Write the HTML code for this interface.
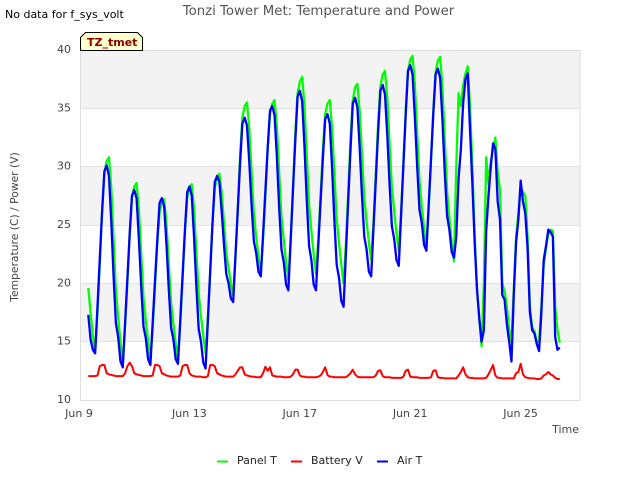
<!DOCTYPE html>
<html>
<head>
<meta charset="utf-8">
<title>Tonzi Tower Met: Temperature and Power</title>
<style>
html,body{margin:0;padding:0;background:#fff;width:640px;height:480px;overflow:hidden}
svg{display:block}
text{font-family:"DejaVu Sans",sans-serif;font-size:11px}
</style>
</head>
<body>
<svg id="chart" width="640" height="480" viewBox="0 0 640 480" xmlns="http://www.w3.org/2000/svg">
  <text x="318.5" y="15" text-anchor="middle" fill="#555" style="font-size:13.3px">Tonzi Tower Met: Temperature and Power</text>
  <text x="5" y="18" fill="#000">No data for f_sys_volt</text>
  <g id="bands"></g>
  <g id="grid"></g>
  <rect x="80.5" y="50.5" width="499.5" height="350" fill="none" stroke="#ddd"></rect>
  <g id="yticks"></g>
  <g id="xticks"></g>
  <text transform="translate(18,227) rotate(-90)" text-anchor="middle" fill="#444" style="font-size:10.75px">Temperature (C) / Power (V)</text>
  <text x="579" y="433" text-anchor="end" fill="#444">Time</text>
  <g id="series"></g>
  <g>
    <polygon points="80.5,50.5 80.5,37.5 85.5,32.5 137.5,32.5 142.5,37.5 142.5,50.5" fill="#ffffcc" stroke="#000"></polygon>
    <text x="87" y="46" fill="#8b0000" style="font-weight:bold">TZ_tmet</text>
  </g>
  <g>
    <line x1="217" x2="228" y1="461.5" y2="461.5" stroke="#00ff00" stroke-width="2"></line>
    <text x="237" y="464" fill="#222">Panel T</text>
    <line x1="291" x2="302" y1="461.5" y2="461.5" stroke="#ff0000" stroke-width="2"></line>
    <text x="311" y="464" fill="#222">Battery V</text>
    <line x1="377" x2="388" y1="461.5" y2="461.5" stroke="#0000ff" stroke-width="2"></line>
    <text x="397" y="464" fill="#222">Air T</text>
  </g>
</svg>
<script>
const yTickValues = [10, 15, 20, 25, 30, 35, 40];
const xTickDays = [0, 4, 8, 12, 16];
const xTickLabels = ["Jun 9", "Jun 13", "Jun 17", "Jun 21", "Jun 25"];
const firstSampleDay = 0.3;
const samplesPerDay = 12;

const panelT = [
19.6,17.5,15.5,14.2,17.5,21.7,26.2,29.5,30.5,30.8,28.2,23.8,
19.4,17.1,15,13.2,16.3,20.1,24.3,27.4,28.3,28.6,26.3,22.6,
18.8,16.8,15,13.5,16.2,19.7,23.4,26.1,26.9,27.2,25.1,21.7,
18.3,16.5,14.9,13.5,16.5,20.3,24.3,27.3,28.2,28.5,26.3,22.7,
19.1,17.2,15.5,14,17.1,20.9,25.1,28.2,29.1,29.4,27.8,25.2,
22.6,21.3,20,19,22.3,26.4,30.9,34.2,35.2,35.5,33.3,29.6,
26,24,22.3,20.8,23.8,27.5,31.5,34.5,35.4,35.7,33.4,29.5,
25.7,23.7,21.8,20.3,23.8,28.1,32.8,36.3,37.3,37.7,35.2,31,
26.7,24.5,22.5,20.8,23.8,27.5,31.5,34.5,35.4,35.7,33.3,29.4,
25.5,23.5,21.6,20,23.4,27.7,32.3,35.7,36.8,37.1,34.8,31.1,
27.3,25.3,23.5,22,25.2,29.3,33.7,36.9,37.9,38.2,35.9,32,
28.2,26.2,24.3,22.8,26.1,30.3,34.8,38.2,39.2,39.5,37,32.9,
28.8,26.6,24.7,23,26.3,30.4,34.8,38.1,39.1,39.4,36.7,32.3,
27.9,25.6,23.5,21.9,30,36.3,35.2,37,38,38.6,35,30,
24,19.5,17,14.6,20,30.8,28.5,30.5,31.5,32.5,29.5,28,
20,19.3,18,16,15,19.5,24,26,28.2,27.8,27.5,24,
18,16.2,15.9,15,15,18,21.5,23,24.2,24.6,24.5,18,
16,14.9
];

const batteryV = [
12.05,12.05,12.05,12.05,12.1,12.9,13,13,12.3,12.2,12.15,12.1,
12.05,12.05,12.05,12.05,12.3,12.9,13.2,12.9,12.3,12.2,12.15,12.1,
12.05,12.05,12.05,12.05,12.1,13,13,12.9,12.3,12.2,12.1,12.05,
12,12,12,12,12.1,12.9,13,13,12.3,12.1,12.05,12,
12,12,11.95,11.95,12.05,13,13,12.9,12.3,12.2,12.1,12.05,
12,12,12,12,12.2,12.5,12.8,12.8,12.2,12.1,12.05,12,
12,11.95,11.95,11.95,12.3,12.85,12.5,12.8,12.1,12.05,12,12,
12,11.95,11.95,11.95,12,12.2,12.6,12.6,12.1,12,12,11.95,
11.95,11.95,11.95,11.95,12,12.1,12.4,12.8,12.15,12,12,11.95,
11.95,11.95,11.95,11.95,11.95,12.1,12.3,12.6,12.2,12,11.95,11.95,
11.95,11.95,11.95,11.95,11.95,12.1,12.5,12.55,12.05,11.95,11.95,11.95,
11.9,11.9,11.9,11.9,11.9,12,12.5,12.6,12,11.95,11.95,11.95,
11.9,11.9,11.9,11.9,11.9,11.95,12.5,12.55,11.95,11.9,11.9,11.85,
11.85,11.85,11.85,11.85,11.85,12.1,12.4,12.8,12.2,11.95,11.9,11.9,
11.85,11.85,11.85,11.85,11.85,11.9,12.2,12.6,13,12.1,11.9,11.9,
11.85,11.85,11.85,11.85,11.85,11.85,12.3,12.4,13.1,12.2,11.95,11.9,
11.85,11.85,11.85,11.8,11.8,11.85,12.1,12.2,12.4,12.2,12.1,11.9,
11.8,11.8
];

const airT = [
17.3,15.2,14.3,14,18,22.1,26.1,29.6,30.1,29.2,25.3,20.6,
16.6,15.4,13.3,12.8,16.6,20.4,24.2,27.5,28,27.3,23.8,19.8,
16.3,15.3,13.5,13,16.6,20.2,23.7,26.9,27.3,26.6,23.3,19.5,
16.2,15.2,13.5,13.1,16.9,20.7,24.5,27.8,28.3,27.5,23.9,19.7,
16.1,15,13.2,12.7,16.8,21,25.1,28.7,29.2,28.7,26.2,23.3,
20.8,20,18.7,18.4,22.4,26.3,30.3,33.7,34.2,33.5,30.4,26.7,
23.6,22.6,21,20.6,24.2,27.9,31.6,34.8,35.2,34.4,30.8,26.5,
22.9,21.8,19.9,19.4,23.7,28,32.2,36,36.5,35.6,31.7,27.1,
23.2,22,19.9,19.4,23.2,27,30.7,34.1,34.5,33.7,29.9,25.4,
21.6,20.5,18.5,18,22.5,27,31.4,35.4,35.9,35.1,31.6,27.5,
24,22.9,21,20.6,24.7,28.8,32.9,36.5,37,36.2,32.7,28.5,
24.9,23.8,22,21.5,25.8,30.1,34.4,38.2,38.7,37.9,34.2,30,
26.3,25.2,23.3,22.8,26.7,30.6,34.5,37.9,38.4,37.6,33.9,29.5,
25.8,24.6,22.7,22.2,24,29,31.5,35.5,37.5,38,33,28.5,
23.5,19.5,17,15,16,24.5,27.5,30,32,31.5,27,25.5,
19,18.6,16.5,15,13.3,19,23.5,25.5,28.8,27,26,23,
17.5,16,15.7,14.8,14.2,17.5,22,23.2,24.6,24.4,24,15.4,
14.3,14.5
];

const SVGNS = "http://www.w3.org/2000/svg";
function xScale(day) { return 80 + day * 27.6; }
function yScale(v) { return 400 - (v - 10) * 350 / 30; }
function sampleDay(i) { return firstSampleDay + i / samplesPerDay; }
function linePath(values) {
  return values.map(function (v, i) {
    return (i ? "L" : "M") + xScale(sampleDay(i)).toFixed(2) + " " + yScale(v).toFixed(2);
  }).join(" ");
}

const bandsG = document.getElementById("bands");
const gridG = document.getElementById("grid");
const yTicksG = document.getElementById("yticks");
const xTicksG = document.getElementById("xticks");
const seriesG = document.getElementById("series");

yTickValues.forEach(function (v, i) {
  if (i < yTickValues.length - 1 && i % 2 === 1) {
    const top = yScale(yTickValues[i + 1]);
    const bottom = yScale(v);
    const band = document.createElementNS(SVGNS, "rect");
    
    
    band.setAttribute("x", 80);
    band.setAttribute("y", top);
    band.setAttribute("width", 500);
    band.setAttribute("height", bottom - top);
    band.setAttribute("fill", "#f3f3f3");
    bandsG.appendChild(band);
  }
  const gl = document.createElementNS(SVGNS, "line");
  
  
  gl.setAttribute("x1", 80);
  gl.setAttribute("x2", 580);
  gl.setAttribute("y1", Math.floor(yScale(v)) + 0.5);
  gl.setAttribute("y2", Math.floor(yScale(v)) + 0.5);
  gl.setAttribute("stroke", "#e2e2e2");
  gridG.appendChild(gl);
  const t = document.createElementNS(SVGNS, "text");
  
  
  t.setAttribute("x", 71);
  t.setAttribute("y", yScale(v) + 3);
  t.setAttribute("text-anchor", "end");
  t.setAttribute("fill", "#444");
  t.textContent = String(v);
  yTicksG.appendChild(t);
});

xTickDays.forEach(function (d, i) {
  const t = document.createElementNS(SVGNS, "text");
  
  
  t.setAttribute("x", xScale(d) - 1);
  t.setAttribute("y", 417);
  t.setAttribute("text-anchor", "middle");
  t.setAttribute("fill", "#444");
  t.textContent = xTickLabels[i];
  xTicksG.appendChild(t);
});

const panelLine = document.createElementNS(SVGNS, "path");


panelLine.setAttribute("d", linePath(panelT));
panelLine.setAttribute("fill", "none");
panelLine.setAttribute("stroke", "#00ff00");
panelLine.setAttribute("stroke-width", "2.3");
panelLine.setAttribute("stroke-linejoin", "round");
seriesG.appendChild(panelLine);

const batteryLine = document.createElementNS(SVGNS, "path");


batteryLine.setAttribute("d", linePath(batteryV));
batteryLine.setAttribute("fill", "none");
batteryLine.setAttribute("stroke", "#ff0000");
batteryLine.setAttribute("stroke-width", "2");
batteryLine.setAttribute("stroke-linejoin", "round");
seriesG.appendChild(batteryLine);

const airLine = document.createElementNS(SVGNS, "path");


airLine.setAttribute("d", linePath(airT));
airLine.setAttribute("fill", "none");
airLine.setAttribute("stroke", "#0000ff");
airLine.setAttribute("stroke-width", "2.3");
airLine.setAttribute("stroke-linejoin", "round");
seriesG.appendChild(airLine);
</script>
</body>
</html>
